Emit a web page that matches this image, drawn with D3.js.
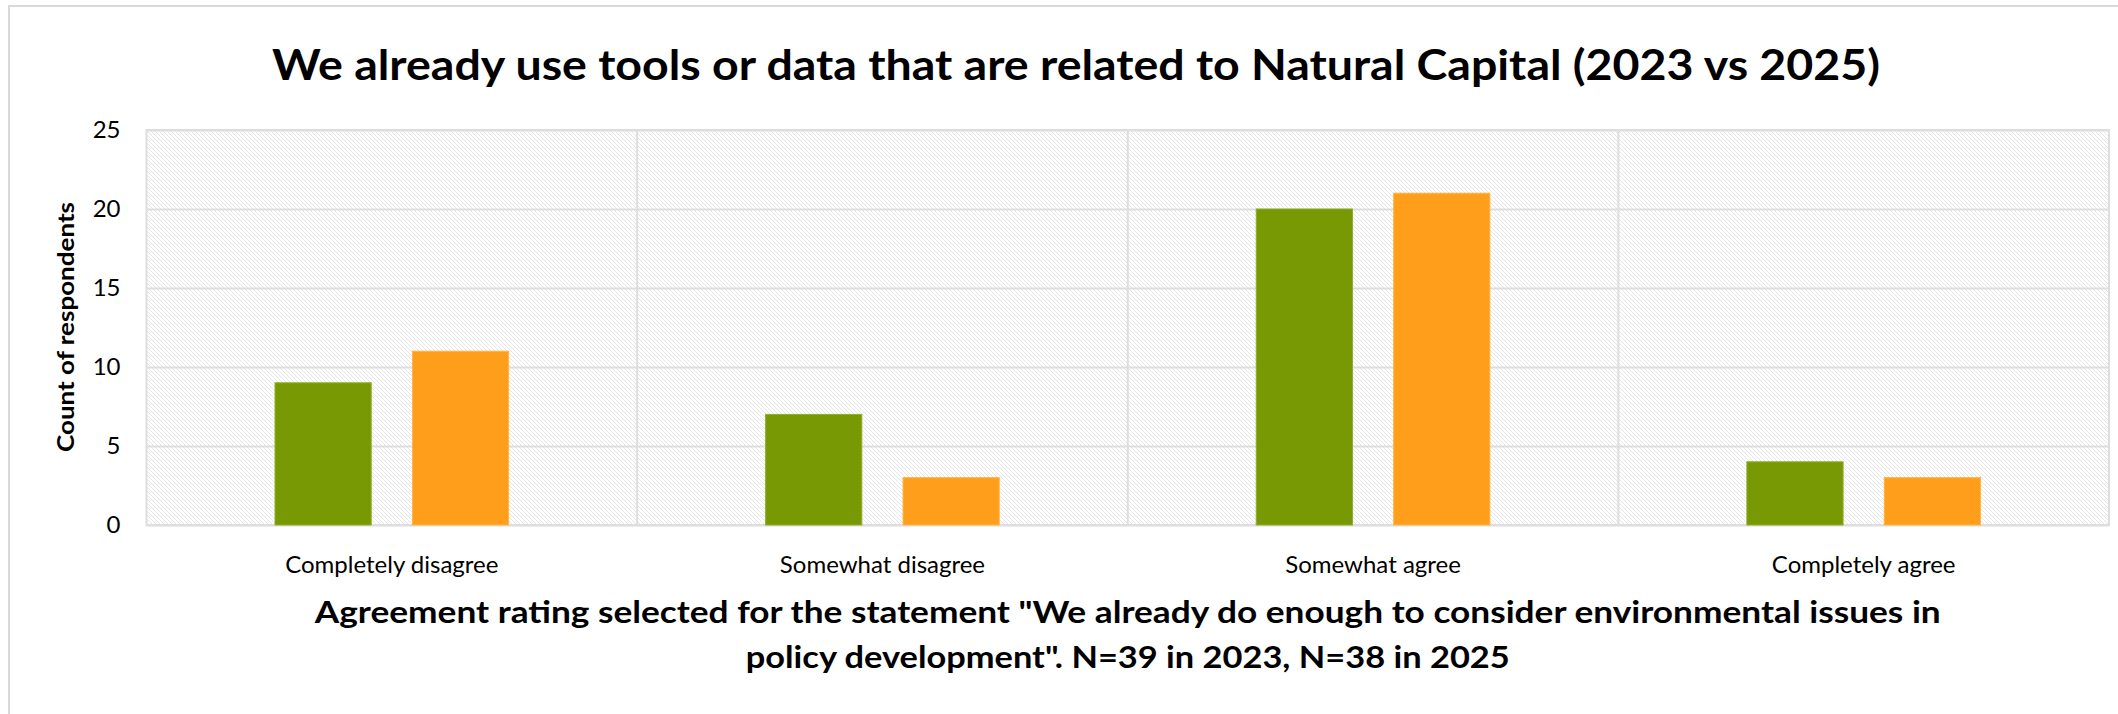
<!DOCTYPE html>
<html>
<head>
<meta charset="utf-8">
<script src="https://cdn.jsdelivr.net/npm/d3@7"></script>
<style>
  html, body { margin: 0; padding: 0; background: #fff; }
  svg { display: block; font-family: "Lato", "Open Sans", sans-serif; }
</style>
</head>
<body>
<svg id="chart" width="2118" height="714"></svg>
<script>
const categories = ["Completely disagree", "Somewhat disagree", "Somewhat agree", "Completely agree"];
const seriesNames = ["2023", "2025"];
const values2023 = [9, 7, 20, 4];
const values2025 = [11, 3, 21, 3];
const yTicks = [0, 5, 10, 15, 20, 25];
const seriesColors = ["#789904", "#FF9E1B"];
const seriesStroke = ["#8FAE25", "#FFB548"];

const titleText = "We already use tools or data that are related to Natural Capital (2023 vs 2025)";
const yTitleText = "Count of respondents";
const xTitleLines = [
  "Agreement rating selected for the statement \"We already do enough to consider environmental issues in",
  "policy development\". N=39 in 2023, N=38 in 2025"
];

const svg = d3.select("#chart");
const plot = { left: 146.5, right: 2109, top: 130, bottom: 525 };

// outer chart border
svg.append("rect").attr("x", 9).attr("y", 6).attr("width", 2300).attr("height", 900)
  .attr("fill", "#fff").attr("stroke", "#d9d9d9").attr("stroke-width", 2);

// hatch pattern
const defs = svg.append("defs");
const pat = defs.append("pattern").attr("id", "hatch").attr("patternUnits", "userSpaceOnUse")
  .attr("width", 4).attr("height", 4);
pat.append("rect").attr("width", 4).attr("height", 4).attr("fill", "#ffffff");
pat.append("path").attr("d", "M-1,-1 L5,5 M-1,3 L1,5 M3,-1 L5,1")
  .attr("stroke", "#e6e6e6").attr("stroke-width", 1);

const x = d3.scaleBand().domain(categories).range([plot.left, plot.right]).padding(0);
const xs = d3.scaleBand().domain(seriesNames).range([0, x.bandwidth()])
  .paddingInner(0.3).paddingOuter(0.935);
const y = d3.scaleLinear().domain([0, 25]).range([plot.bottom, plot.top]);

// plot background
svg.append("rect").attr("x", plot.left).attr("y", plot.top)
  .attr("width", plot.right - plot.left).attr("height", plot.bottom - plot.top)
  .attr("fill", "url(#hatch)");

// horizontal gridlines
svg.append("g").attr("transform", `translate(${plot.left},0)`)
  .call(d3.axisLeft(y).tickValues(yTicks).tickSize(-(plot.right - plot.left)).tickFormat(""))
  .call(g => g.select(".domain").remove())
  .call(g => g.selectAll("line").attr("stroke", "#dedede").attr("stroke-width", 2));

// vertical category dividers
svg.append("g").selectAll("line").data(categories.slice(1)).join("line")
  .attr("x1", d => x(d)).attr("x2", d => x(d))
  .attr("y1", plot.top).attr("y2", plot.bottom)
  .attr("stroke", "#dedede").attr("stroke-width", 2);

// plot border
svg.append("rect").attr("x", plot.left).attr("y", plot.top)
  .attr("width", plot.right - plot.left).attr("height", plot.bottom - plot.top)
  .attr("fill", "none").attr("stroke", "#dedede").attr("stroke-width", 2);

// bars
const rows = categories.map((c, i) => ({ cat: c, vals: [values2023[i], values2025[i]] }));
const grp = svg.append("g").selectAll("g").data(rows).join("g")
  .attr("transform", d => `translate(${x(d.cat)},0)`);
grp.selectAll("rect").data(d => d.vals.map((v, j) => ({ v, s: seriesNames[j], j }))).join("rect")
  .attr("x", d => xs(d.s)).attr("width", xs.bandwidth())
  .attr("y", d => y(d.v)).attr("height", d => y(0) - y(d.v))
  .attr("fill", d => seriesColors[d.j])
  .attr("stroke", d => seriesStroke[d.j]).attr("stroke-width", 1);

// y tick labels
svg.append("g").attr("transform", `translate(${plot.left},0)`)
  .call(d3.axisLeft(y).tickValues(yTicks).tickSize(0).tickPadding(26))
  .call(g => g.select(".domain").remove())
  .call(g => g.selectAll("text").attr("font-family", "Lato, sans-serif")
    .attr("font-size", 24).attr("fill", "#000"));

// x category labels
svg.append("g").attr("transform", `translate(0,${plot.bottom})`)
  .call(d3.axisBottom(x).tickSize(0).tickPadding(31))
  .call(g => g.select(".domain").remove())
  .call(g => g.selectAll("text").attr("font-family", "Lato, sans-serif")
    .attr("font-size", 24).attr("fill", "#000"));

// title
svg.append("text").attr("x", 1076).attr("y", 80).attr("text-anchor", "middle")
  .attr("font-size", 42).attr("font-weight", "bold").attr("fill", "#000")
  .attr("textLength", 1608).attr("lengthAdjust", "spacingAndGlyphs")
  .text(titleText);

// y title
svg.append("text").attr("transform", "translate(74,327) rotate(-90)")
  .attr("text-anchor", "middle").attr("font-size", 22).attr("font-weight", "bold")
  .attr("fill", "#000").attr("textLength", 250).attr("lengthAdjust", "spacingAndGlyphs")
  .text(yTitleText);

// x title
const xTitleLen = [1626, 764];
svg.append("g").selectAll("text").data(xTitleLines).join("text")
  .attr("x", (plot.left + plot.right) / 2).attr("y", (d, i) => 623 + i * 45)
  .attr("text-anchor", "middle").attr("font-size", 31).attr("font-weight", "bold")
  .attr("fill", "#000")
  .attr("textLength", (d, i) => xTitleLen[i]).attr("lengthAdjust", "spacingAndGlyphs")
  .text(d => d);
</script>
</body>
</html>
